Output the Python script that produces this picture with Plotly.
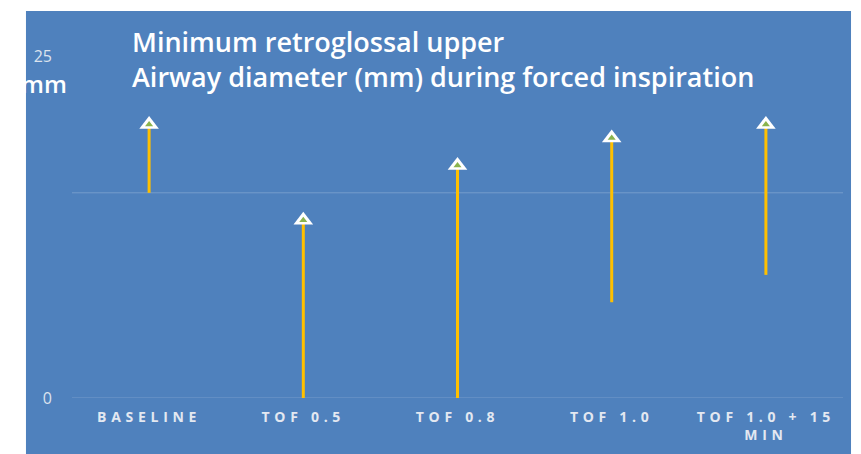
import plotly.graph_objects as go

categories = ["BASELINE", "TOF 0.5", "TOF 0.8", "TOF 1.0", "TOF 1.0 + 15<br>MIN"]
low_values = [15, 0, 0, 7, 9]
high_values = [20, 13, 17, 19, 20]
y_tick_vals = [0, 25]
y_tick_text = ["0", "25"]
grid_values = [0, 15]
title_text = "Minimum retroglossal upper<br>Airway diameter (mm) during forced inspiration"
unit_text = "mm"

BLUE = "#4f81bd"
YELLOW = "#ffc000"
FONT = "Open Sans"

fig = go.Figure()

xs, ys = [], []
for c, lo, hi in zip(categories, low_values, high_values):
    xs += [c, c, None]
    ys += [lo, hi, None]

fig.add_trace(go.Scatter(x=xs, y=ys, mode="lines", line=dict(color=YELLOW, width=3),
                         hoverinfo="skip", showlegend=False, cliponaxis=False))
fig.add_trace(go.Scatter(x=categories, y=high_values, mode="markers",
                         marker=dict(symbol="triangle-up", size=17, color="white", line=dict(width=0)),
                         showlegend=False, cliponaxis=False))
fig.add_trace(go.Scatter(x=categories, y=high_values, mode="markers",
                         marker=dict(symbol="triangle-up", size=7, color="#8ab44e", line=dict(width=0)),
                         showlegend=False, cliponaxis=False))

shapes = [dict(type="rect", xref="paper", yref="paper", x0=-0.0597, x1=1.0104, y0=-0.2, y1=1.1316,
               fillcolor=BLUE, line=dict(width=0), layer="below")]
for g in grid_values:
    shapes.append(dict(type="line", xref="paper", yref="y", x0=0, x1=1, y0=g, y1=g,
                       line=dict(color="rgba(255,255,255,0.22)", width=1), layer="below"))

fig.update_layout(
    width=861, height=454,
    margin=dict(l=64, r=26, t=48, b=64, pad=0),
    paper_bgcolor="white", plot_bgcolor="rgba(0,0,0,0)",
    shapes=shapes,
    showlegend=False,
    xaxis=dict(type="category", range=[-0.5, 4.5], showgrid=False, zeroline=False, showline=False,
               ticks="", ticklabelstandoff=9,
               tickfont=dict(family=FONT, size=14, color="#e3e8f1", weight="bold")),
    yaxis=dict(range=[0, 25], tickvals=y_tick_vals, ticktext=y_tick_text, showgrid=False,
               zeroline=False, showline=False, ticks="", ticklabelstandoff=19,
               tickfont=dict(family=FONT, size=16, color="#dce3ee")),
    annotations=[
        dict(text=title_text, xref="paper", yref="paper", x=(129 - 71) / 771, y=(397 - 20) / 342,
             xanchor="left", yanchor="top", align="left", showarrow=False,
             font=dict(family=FONT, size=27, color="white", weight=600)),
        dict(text=unit_text, xref="paper", yref="paper", x=(18 - 71) / 771, y=(397 - 82) / 342,
             xanchor="left", yanchor="middle", showarrow=False,
             font=dict(family=FONT, size=24, color="white", weight=600)),
    ],
)

css = "var s=document.createElement('style');s.innerHTML='.xtick text{letter-spacing:4.7px}';document.head.appendChild(s);"
fig.write_html("out.html", post_script=css)
